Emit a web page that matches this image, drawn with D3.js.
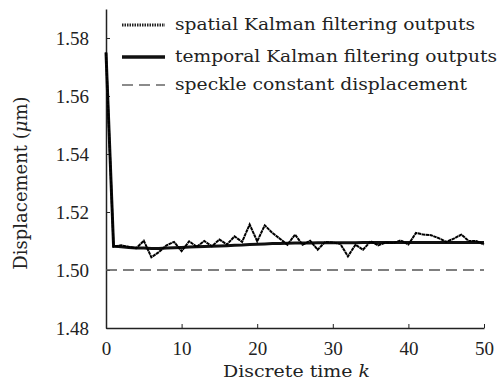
<!DOCTYPE html>
<html>
<head>
<meta charset="utf-8">
<script src="https://cdn.jsdelivr.net/npm/d3@7"></script>
<style>
  body { margin: 0; background: #fff; }
  text { font-family: "DejaVu Serif", serif; fill: #222; }
</style>
</head>
<body>
<div id="chart"></div>
<script>
// chart data
var kValues = d3.range(0, 51);
var spatial = [1.575, 1.508, 1.5085, 1.508, 1.5075, 1.5101, 1.5044, 1.5062, 1.5085, 1.5097,
  1.5065, 1.5099, 1.508, 1.510, 1.5082, 1.5105, 1.5088, 1.5116, 1.5097, 1.5157,
  1.5099, 1.5154, 1.5128, 1.5108, 1.5087, 1.5122, 1.5087, 1.5101, 1.507, 1.5097,
  1.5095, 1.509, 1.5047, 1.5087, 1.507, 1.5099, 1.5085, 1.5095, 1.5093, 1.5102,
  1.5088, 1.5128, 1.5122, 1.512, 1.511, 1.5097, 1.5108, 1.5122, 1.510, 1.510, 1.5088];
var temporal = [1.575, 1.5082, 1.508, 1.5078, 1.5076, 1.5076, 1.5074, 1.5074, 1.5076, 1.5077,
  1.5078, 1.5079, 1.508, 1.5081, 1.5082, 1.5083, 1.5084, 1.5085, 1.5086, 1.5088,
  1.5089, 1.509, 1.5091, 1.5091, 1.5092, 1.5093, 1.5093, 1.5093, 1.5094, 1.5094,
  1.5094, 1.5094, 1.5094, 1.5094, 1.5095, 1.5095, 1.5095, 1.5095, 1.5095, 1.5095,
  1.5095, 1.5095, 1.5095, 1.5095, 1.5095, 1.5095, 1.5095, 1.5095, 1.5095, 1.5095, 1.5095];
var speckle = 1.50;
var xTicks = [0, 10, 20, 30, 40, 50];
var yTicks = [1.48, 1.50, 1.52, 1.54, 1.56, 1.58];
var legendLabels = ["spatial Kalman filtering outputs", "temporal Kalman filtering outputs", "speckle constant displacement"];

var svgWidth = 502;
var svgHeight = 388;
var margin = { top: 9, right: 18, bottom: 60, left: 106 };
var chartWidth = svgWidth - margin.left - margin.right;
var chartHeight = svgHeight - margin.top - margin.bottom;

var svg = d3.select("#chart")
  .append("svg")
  .attr("width", svgWidth)
  .attr("height", svgHeight);

var chartGroup = svg.append("g")
  .attr("transform", `translate(${margin.left}, ${margin.top})`);

var xScale = d3.scaleLinear().domain([0, 50]).range([0, chartWidth]);
var yScale = d3.scaleLinear().domain([1.48, 1.59]).range([chartHeight, 0]);

// axes, ticks point inward
var bottomAxis = d3.axisBottom(xScale).tickValues(xTicks).tickSizeInner(-4).tickSizeOuter(0).tickPadding(10);
var leftAxis = d3.axisLeft(yScale).tickValues(yTicks).tickSizeInner(-4).tickSizeOuter(0).tickPadding(17)
  .tickFormat(d3.format(".2f"));

var xAxis = chartGroup.append("g")
  .attr("transform", `translate(0, ${chartHeight})`)
  .call(bottomAxis);
var yAxis = chartGroup.append("g").call(leftAxis);

[xAxis, yAxis].forEach(function(ax) {
  ax.select(".domain").attr("stroke", "#222").attr("stroke-width", 1.5);
  ax.selectAll(".tick line").attr("stroke", "#222").attr("stroke-width", 1);
  ax.selectAll(".tick text").style("font-family", "Liberation Serif, serif")
    .style("font-size", "19px").attr("fill", "#222");
});
xAxis.selectAll(".tick text").attr("dy", "0.9em");

// speckle constant line
chartGroup.append("line")
  .attr("x1", xScale(0)).attr("x2", xScale(50))
  .attr("y1", yScale(speckle)).attr("y2", yScale(speckle))
  .attr("stroke", "#555").attr("stroke-width", 1.3)
  .attr("stroke-dasharray", "11,6");

var line = d3.line().x((d, i) => xScale(kValues[i])).y(d => yScale(d));

chartGroup.append("path")
  .datum(temporal)
  .attr("d", line)
  .attr("fill", "none").attr("stroke", "#111").attr("stroke-width", 3);

chartGroup.append("path")
  .datum(spatial)
  .attr("d", line)
  .attr("fill", "none").attr("stroke", "#000").attr("stroke-width", 2)
  .attr("stroke-dasharray", "3.5,0.5");

// legend
var legend = svg.append("g");
var legendY = [25, 57, 85];
var legendWidths = [300, 322, 292];
var styles = [
  { w: 3, dash: "1.5,1", color: "#222" },
  { w: 3.5, dash: null, color: "#111" },
  { w: 1.5, dash: "11,6", color: "#666" }
];
legendLabels.forEach(function(lbl, i) {
  legend.append("line")
    .attr("x1", 122).attr("x2", 165)
    .attr("y1", legendY[i]).attr("y2", legendY[i])
    .attr("stroke", styles[i].color).attr("stroke-width", styles[i].w)
    .attr("stroke-dasharray", styles[i].dash);
  legend.append("text")
    .attr("x", 175).attr("y", legendY[i])
    .attr("dy", "0.32em")
    .attr("textLength", legendWidths[i])
    .attr("lengthAdjust", "spacingAndGlyphs")
    .style("font-size", "17px")
    .text(lbl);
});

// axis titles
var xTitle = svg.append("text")
  .attr("x", 223)
  .attr("y", 377)
  .attr("textLength", 147)
  .attr("lengthAdjust", "spacingAndGlyphs")
  .style("font-size", "17px")
  .text("Discrete time ");
xTitle.append("tspan").style("font-style", "italic").text("k");

var yTitle = svg.append("text")
  .attr("transform", "rotate(-90)")
  .attr("x", -183)
  .attr("y", 27)
  .attr("text-anchor", "middle")
  .style("font-size", "18px")
  .text("Displacement (");
yTitle.append("tspan").style("font-style", "italic").text("μ");
yTitle.append("tspan").text("m)");
</script>
</body>
</html>
